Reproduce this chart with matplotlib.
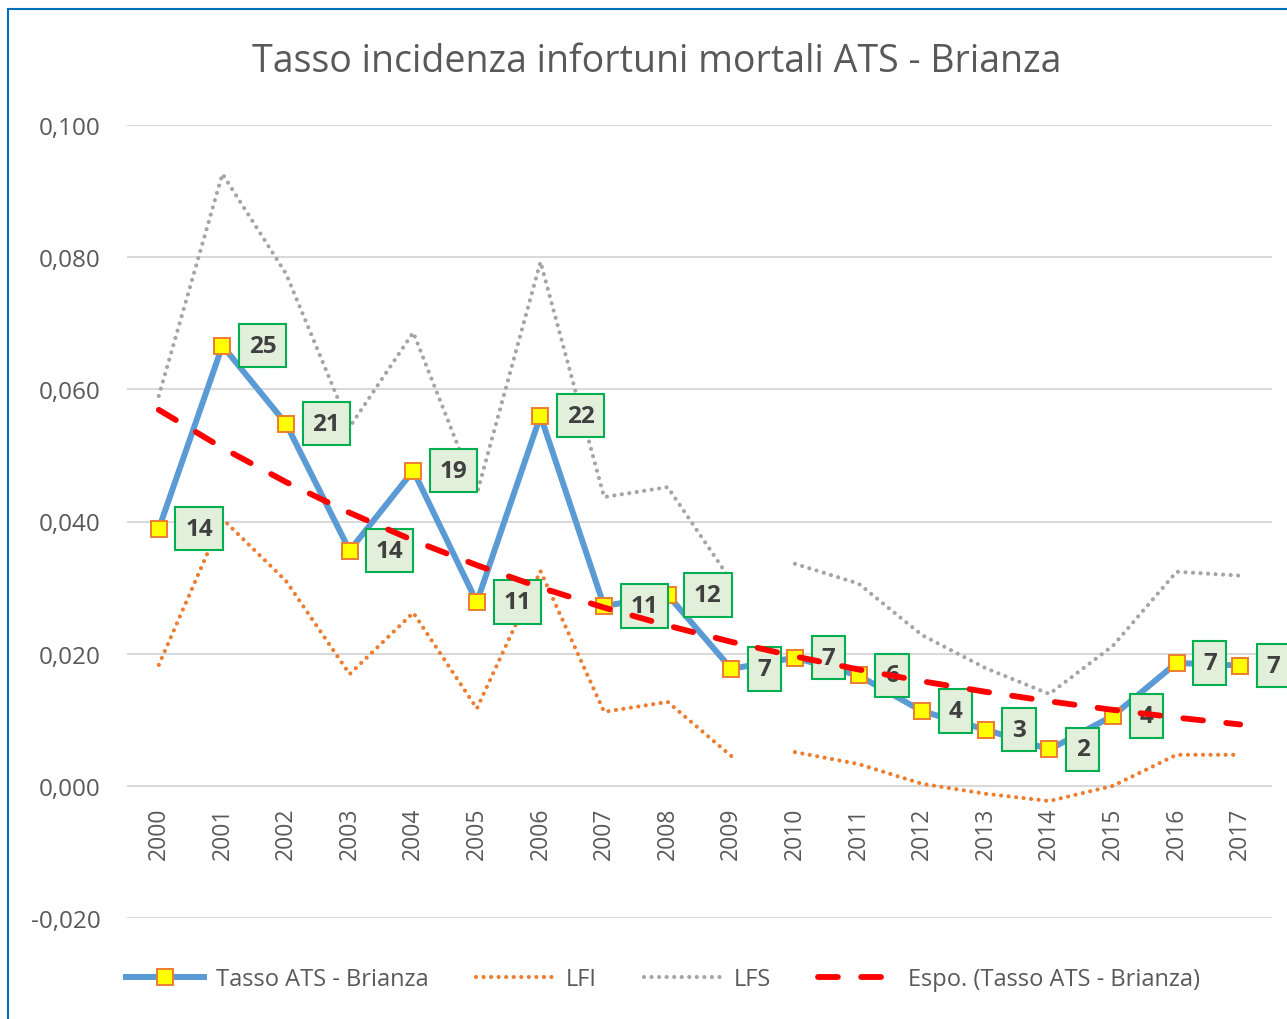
import numpy as np
import matplotlib.pyplot as plt
from matplotlib.patches import Rectangle

YEARS = list(range(2000, 2018))

# tasso incidenza infortuni mortali ATS - Brianza
TASSO = [0.0389, 0.0666, 0.0548, 0.0356, 0.0477, 0.0278, 0.0560, 0.0272, 0.0289,
         0.0177, 0.0194, 0.0167, 0.0113, 0.0085, 0.0055, 0.0106, 0.0186, 0.0182]
# numero di casi (etichette)
CASI = [14, 25, 21, 14, 19, 11, 22, 11, 12, 7, 7, 6, 4, 3, 2, 4, 7, 7]
# limiti fiduciari inferiore / superiore
LFI = [0.0183, 0.0404, 0.0310, 0.0169, 0.0262, 0.0117, 0.0325, 0.0112, 0.0127,
       0.0045, 0.0051, 0.0033, 0.0003, -0.0012, -0.0023, 0.0000, 0.0047, 0.0047]
LFS = [0.0590, 0.0926, 0.0775, 0.0543, 0.0686, 0.0442, 0.0793, 0.0437, 0.0452,
       0.0310, 0.0336, 0.0306, 0.0228, 0.0178, 0.0139, 0.0212, 0.0324, 0.0318]
BREAK = 10  # the limit series are not joined between 2009 and 2010

Y_TICKS = [-0.02, 0.0, 0.02, 0.04, 0.06, 0.08, 0.10]

TITLE = "Tasso incidenza infortuni mortali ATS - Brianza"
FONT = "Open Sans"
GREY_TXT = "#595959"

plt.rcParams["font.family"] = [FONT, "DejaVu Sans"]

fig = plt.figure(figsize=(12.87, 10.2), dpi=100)
ax = fig.add_axes([127 / 1287, 1 - 919 / 1020, (1272 - 127) / 1287, (919 - 126) / 1020])

# category axis crosses at 0 (must be set before tick labels, it resets the ticks)
for s in ax.spines.values():
    s.set_visible(False)
ax.spines["bottom"].set_position(("data", 0))

x = np.array(YEARS)
dots = dict(linestyle=(0, (0.01, 1.8)), dash_capstyle="round", linewidth=3.0)

# confidence limits, drawn in two pieces
for seg in (slice(0, BREAK), slice(BREAK, None)):
    ax.plot(x[seg], np.array(LFI)[seg], color="#ED7D31", zorder=2, **dots)
    ax.plot(x[seg], np.array(LFS)[seg], color="#A5A5A5", zorder=2, **dots)

ax.plot(x, TASSO, color="#5B9BD5", linewidth=4.3, marker="s", markersize=12,
        markerfacecolor="#FFFF00", markeredgecolor="#ED7D31", markeredgewidth=1.4,
        zorder=3, solid_joinstyle="round")

for xi, yi, n in zip(x, TASSO, CASI):
    ax.annotate(str(n), (xi, yi), xytext=(19, 0), textcoords="offset points",
                ha="left", va="center", fontsize=17.5, fontweight="bold", color="#404040",
                bbox=dict(boxstyle="square,pad=0.4", facecolor="#E2EFDA",
                          edgecolor="#00B050", linewidth=1.5),
                zorder=4, annotation_clip=False)

# exponential trendline (least squares on log values, as Excel does)
b, a = np.polyfit(x - x[0], np.log(TASSO), 1)
trend = np.exp(a + b * (x - x[0]))
ax.plot(x, trend, color="#FF0000", linewidth=4.2, linestyle=(0, (3.4, 4.0)),
        dash_capstyle="round", zorder=5)

ax.set_xlim(1999.5, 2017.5)
ax.set_ylim(-0.02, 0.10)
ax.set_yticks(Y_TICKS)
ax.set_yticklabels([f"{v:.3f}".replace(".", ",") for v in Y_TICKS])
ax.set_xticks(YEARS)
ax.set_xticklabels([str(yr) for yr in YEARS])
ax.yaxis.grid(True, color="#D9D9D9", linewidth=1.5)
ax.set_axisbelow(True)
ax.tick_params(axis="y", length=0, pad=19, labelsize=17.5, labelcolor=GREY_TXT)
ax.tick_params(axis="x", length=0, pad=15, labelsize=16.5, labelcolor=GREY_TXT,
               labelrotation=90)

fig.text(0.5105, 1 - 62 / 1020, TITLE, ha="center", va="center",
         fontsize=27, color=GREY_TXT)

h1, = ax.plot([], [], color="#5B9BD5", linewidth=4.3, marker="s", markersize=12,
              markerfacecolor="#FFFF00", markeredgecolor="#ED7D31", markeredgewidth=1.4)
h2, = ax.plot([], [], color="#ED7D31", **dots)
h3, = ax.plot([], [], color="#A5A5A5", **dots)
h4, = ax.plot([], [], color="#FF0000", linewidth=4.2, linestyle=(0, (3.4, 4.0)),
              dash_capstyle="round")
fig.legend([h1, h2, h3, h4],
           ["Tasso ATS - Brianza", "LFI", "LFS", "Espo. (Tasso ATS - Brianza)"],
           loc="center", bbox_to_anchor=(0.515, 1 - 980 / 1020), ncol=4, frameon=False,
           fontsize=17, labelcolor=GREY_TXT, handlelength=3.3, handletextpad=0.5,
           columnspacing=2.0, numpoints=1)

# outer chart border (only left and top are visible in the crop)
fig.add_artist(Rectangle((8 / 1287, -0.1), 2, 1.1 - 10 / 1020, transform=fig.transFigure,
                         fill=False, edgecolor="#0070C0", linewidth=1.5))

fig.savefig("out.png", dpi=100)
